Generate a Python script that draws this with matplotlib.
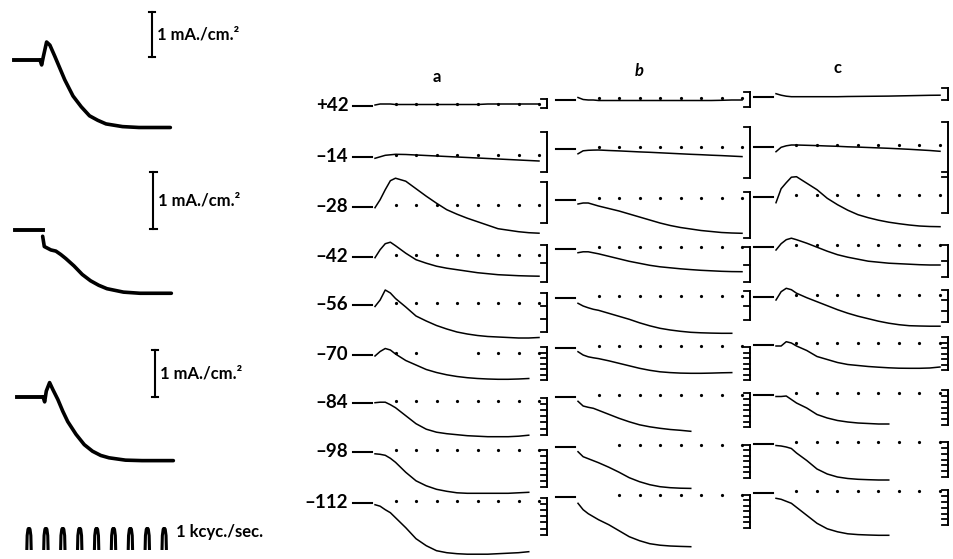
"""
Membrane current records under voltage clamp (three preparations a, b, c),
with three enlarged records on the left.
"""
import matplotlib.pyplot as plt
import numpy as np

nan = np.nan

# ---- data -----------------------------------------------------------------
# right-hand families: time (ms) after the step, current deflection
# (arbitrary units, inward = up) relative to the zero-current level
TIME_MS = [0, 0.25, 0.5, 0.75, 1, 1.5, 2, 2.5, 3, 3.5, 4, 4.5, 5, 5.5, 6, 6.5, 7, 7.5, 8]
VOLTAGE_LABELS = ["+42", "–14", "–28", "–42", "–56", "–70", "–84", "–98", "–112"]
COLUMN_LABELS = ["a", "b", "c"]

TRACES_A = [
    [1, 2, 2, 2, 1.5, 1.5, 1.5, 1.5, 1.5, 1.5, 1.5, 1.5, 1.5, 2, 2, 2, 2, 2, 2],
    [-1, 0.5, 2, 2.5, 3, 2.8, 2.3, 1.8, 1.3, 0.8, 0.3, -0.2, -0.7, -1.2, -1.7, -2.2, -2.7, -3.2, -3.7],
    [-1, 7, 17, 26, 28.5, 25.5, 18, 10.5, 3.5, -3, -7.5, -11.5, -15, -18.5, -22, -23.5, -25, -26, -26.5],
    [-1, 7, 13, 14.5, 11, 3.5, -3, -6.5, -9.5, -11.5, -13, -14.5, -16, -17, -18, -18.5, -19, -19.3, -19.5],
    [-1.5, 5, 15, 12, 6.5, -2, -11, -16, -20.5, -24, -27, -29, -30.5, -31.5, -32, -32.5, -33, -33, -32.5],
    [-1, 3.5, 6.5, 5, 1, -5.5, -10, -14.5, -17.5, -19.8, -21.5, -22.7, -23.5, -24, -24.3, -24.3, -24, -23.5, nan],
    [0, 0.5, 0.5, -2, -5, -13, -21, -26.5, -29.5, -31, -32, -33, -33.5, -34, -34, -34, -33.5, -32.5, nan],
    [-1.5, -2, -3, -6, -10, -20, -28.5, -33.5, -37, -39, -40.5, -41, -41, -41, -41, -41, -40.5, -40, nan],
    [-2, -3.5, -7, -10, -15, -25, -36, -43, -48, -50, -51, -51.5, -51.5, -51.5, -51, -50.5, -50, -49, nan],
]
TRACES_B = [
    [2.5, 0.5, 0, 0, -0.5, -0.5, -0.5, -0.5, -0.5, -0.5, -0.5, -0.5, -0.5, -0.5, -0.5, -0.5, -0.3, 0, 0],
    [-4.5, -1.5, -1, -0.8, -0.7, -1.2, -1.6, -2.1, -2.6, -3.0, -3.5, -4.0, -4.5, -5.0, -5.4, -5.9, -6.3, -6.8, -7.3],
    [-4, -3, -3, -4.5, -6, -8.5, -11, -14, -17, -20, -23, -25.5, -27.5, -29, -30.5, -31.5, -32.5, -33, -33.3],
    [-3.4, -2.5, -2.5, -3.5, -4.5, -7, -9.5, -12, -14, -16, -17.5, -18.5, -19.5, -20.3, -21, -21.5, -22, -22.3, -22.4],
    [-5, -7.7, -9.5, -11, -12, -15, -18, -21, -24.5, -27.5, -30, -31.7, -33, -34, -34.5, -34.8, -35, -35, nan],
    [-3.4, -6.7, -8.5, -9.5, -10.3, -12.5, -15, -17.5, -20, -22, -23.5, -24.3, -24.8, -25, -25, -24.8, -24.5, -24.3, nan],
    [-4, -8.7, -10, -11, -13, -17, -21, -24.5, -27.5, -29.5, -31, -32.2, -33, -34, nan, nan, nan, nan, nan],
    [-5, -10, -12, -14, -16, -20.5, -25.5, -31, -35, -38, -40, -41, -41.5, -41.7, nan, nan, nan, nan, nan],
    [-6.6, -13, -17, -20, -23, -28, -34, -40, -44, -47, -48.5, -49.3, -49.7, -50, nan, nan, nan, nan, nan],
]
TRACES_C = [
    [3, 1.5, 0.5, 0, 0, 0, 0, 0, 0, 0.2, 0.3, 0.4, 0.5, 0.6, 0.8, 1, 1.2, 1.4, 1.5],
    [-4.4, 0, 1.5, 2.3, 2.3, 2, 1.7, 1.3, 1, 0.5, 0.2, -0.2, -0.6, -1, -1.5, -2, -2.6, -3.2, -4],
    [-6, 8, 14, 19.5, 20, 13.5, 7, -1.6, -8, -13.5, -18, -21, -23.5, -25.5, -27, -28.3, -29.3, -29.8, -30],
    [-3.3, 3, 7, 8.5, 7, 3.5, -0.5, -4.5, -8, -10.5, -12.5, -14.5, -15.5, -16.5, -17, -17.5, -18, -18.3, -18.3],
    [-3.3, 5, 8.4, 7, 3.5, -1, -5, -9, -13, -16.5, -19.5, -22, -24.5, -26.5, -28, -29, -29.3, -29.5, -29.5],
    [-1, -1, 3.3, 2, -1, -5.5, -11.5, -14.5, -17.5, -19.5, -20.5, -21.5, -22.2, -22.8, -23.2, -23.3, -23.3, -23, -22],
    [-1.5, -1.5, -1, -4.5, -8, -13, -19.5, -23, -25.5, -27, -28, -28.5, -29, -29, nan, nan, nan, nan, nan],
    [-1.5, -2, -3, -4.5, -9, -16.5, -25, -30, -33, -34.5, -35.3, -35.7, -36, -36, nan, nan, nan, nan, nan],
    [-5, -6, -8, -10, -14, -22, -30, -35.5, -38.5, -40.5, -41.3, -41.7, -42, -42, nan, nan, nan, nan, nan],
]

# calibration brackets (same units as the traces): top, bottom, number of teeth
BRACKET_TOP = [
    [7, 25, 25, 12, 12, 8, 5, 2, 5],
    [8, 22, 8, 2, 7, 1, 4, 2, 2],
    [9, 25, 25, 2, 7, 8, 5, 2, 3],
]
BRACKET_BOTTOM = [
    [-2, -15, -16, -25, -27, -25, -32, -35, -32],
    [-7, -29, -38, -33, -22, -32, -30, -31, -31],
    [-3, -30, -16, -30, -25, -25, -30, -33, -32],
]
BRACKET_TEETH = [
    [2, 2, 2, 3, 4, 7, 7, 7, 7],
    [2, 2, 2, 3, 3, 7, 7, 7, 7],
    [2, 2, 2, 3, 4, 7, 7, 7, 7],
]
# 1 ms time markers on the zero line, and the ones not printed
MARKER_MS = [1, 2, 3, 4, 5, 6, 7, 8]
MARKERS_MISSING = {(0, 5): [3, 4], (1, 7): [1], (1, 8): [1], (2, 0): MARKER_MS}

# left-hand enlarged records, current in mA/cm2 (inward = up)
LEFT_TIME_MS = [0, 0.1, 0.2, 0.4, 0.6, 0.9, 1.2, 1.5, 2, 2.5, 3, 3.5, 4, 5, 6, 7, 7.9]
LEFT_TRACES = [
    [0, -0.11, 0.07, 0.40, 0.33, 0.08, -0.18, -0.44, -0.80, -1.04, -1.24, -1.34, -1.42, -1.48, -1.50, -1.50, -1.50],
    [nan, -0.11, -0.29, -0.32, -0.35, -0.37, -0.43, -0.50, -0.63, -0.78, -0.89, -0.97, -1.03, -1.09, -1.11, -1.11, -1.11],
    [0, -0.11, 0.12, 0.30, 0.15, -0.06, -0.31, -0.53, -0.80, -1.02, -1.16, -1.25, -1.30, -1.35, -1.36, -1.36, -1.36],
]
LEFT_HOLD_END_MS = [0, 0.1, 0]
SCALE_BAR_BOTTOM = [0.07, 0.02, 0.0]   # 1 mA/cm2 bars
TIMING_MS = [0, 1, 2, 3, 4, 5, 6, 7, 8]  # 1 kcyc/sec timing wave
WAVE_T = [-0.13, -0.11, -0.06, 0, 0.06, 0.11, 0.13]
WAVE_Y = [0, 0.65, 0.94, 1, 0.94, 0.65, 0]

# ---- layout (pixels) -------------------------------------------------------
W, H = 954, 559
COL_X0 = [375, 578, 776]
COL_BASE_Y = [
    [106, 157.3, 206.7, 256.7, 305, 355, 402.7, 452.3, 502.7],
    [100, 149.3, 200, 249.3, 298.3, 348.3, 397.3, 446.7, 496.7],
    [96.7, 147.3, 196.7, 246.7, 296.7, 345, 395, 444, 493.3],
]
PX_PER_MS = 20.5
LEFT_X0 = [40, 41, 43]
LEFT_BASE_Y = [60, 230, 396.7]
LEFT_PX_PER_UNIT = [45, 57, 47]
LEFT_PX_PER_MS = 16.5

plt.rcParams["font.family"] = ["Lato", "DejaVu Sans"]
fig = plt.figure(figsize=(W / 100, H / 100), dpi=100)
fig.patch.set_facecolor("white")


def px_axes(left, top, width, height):
    ax = fig.add_axes([left / W, 1 - (top + height) / H, width / W, height / H])
    ax.set_axis_off()
    ax.patch.set_alpha(0)
    return ax


# right-hand families
all_traces = [TRACES_A, TRACES_B, TRACES_C]
for c in range(3):
    for r in range(len(VOLTAGE_LABELS)):
        x_lo, x_hi, y_lo, y_hi = -1.6, 8.8, -60, 40
        ax = px_axes(COL_X0[c] + x_lo * PX_PER_MS, COL_BASE_Y[c][r] - y_hi,
                     (x_hi - x_lo) * PX_PER_MS, y_hi - y_lo)
        ax.set_xlim(x_lo, x_hi)
        ax.set_ylim(y_lo, y_hi)

        ax.plot([-1.05, -0.15], [0, 0], color="black", lw=1.5)
        ax.plot(TIME_MS, all_traces[c][r], color="black", lw=1.1)

        missing = MARKERS_MISSING.get((c, r), [])
        dots = [t for t in MARKER_MS if t not in missing]
        ax.plot(dots, [2] * len(dots), "o", color="black", ms=2.3, mew=0)

        top, bot = BRACKET_TOP[c][r], BRACKET_BOTTOM[c][r]
        ax.plot([8.4, 8.4], [bot, top], color="black", lw=1.4)
        for yt in np.linspace(bot, top, BRACKET_TEETH[c][r]):
            ax.plot([8.1, 8.4], [yt, yt], color="black", lw=1.3)

        if c == 0:
            ax.text(-1.3, 0.5, VOLTAGE_LABELS[r], ha="right", va="center",
                    fontsize=13.5, fontweight="bold")
        if r == 0:
            ax.text(3.0, 29, COLUMN_LABELS[c], ha="center", va="center",
                    fontsize=12, fontweight="bold", style="italic" if c == 1 else "normal")

# left-hand enlarged records
for i in range(3):
    s = LEFT_PX_PER_UNIT[i]
    x_lo, x_hi, y_lo, y_hi = -2, 9, -1.8, 1.3
    ax = px_axes(LEFT_X0[i] + x_lo * LEFT_PX_PER_MS, LEFT_BASE_Y[i] - y_hi * s,
                 (x_hi - x_lo) * LEFT_PX_PER_MS, (y_hi - y_lo) * s)
    ax.set_xlim(x_lo, x_hi)
    ax.set_ylim(y_lo, y_hi)
    ax.plot([-1.6, LEFT_HOLD_END_MS[i]], [0, 0], color="black", lw=2.8)
    ax.plot(LEFT_TIME_MS, LEFT_TRACES[i], color="black", lw=2.6,
            solid_capstyle="round", solid_joinstyle="round")
    b0 = SCALE_BAR_BOTTOM[i]
    ax.plot([6.8, 6.8], [b0, b0 + 1], color="black", lw=1.5)
    for yb in (b0, b0 + 1):
        ax.plot([6.6, 7.0], [yb, yb], color="black", lw=1.5)
    ax.text(7.1, b0 + 0.5, "1 mA./cm.²", ha="left", va="center",
            fontsize=12, fontweight="bold")

# timing wave
ax = px_axes(29 - 1 * 16.9, 527, 12 * 16.9, 23)
ax.set_xlim(-1, 11)
ax.set_ylim(0, 1.04)
for t0 in TIMING_MS:
    ax.plot([t0 + w for w in WAVE_T], WAVE_Y, color="black", lw=2.2,
            solid_joinstyle="round", solid_capstyle="butt")
ax.text(8.7, 0.8, "1 kcyc./sec.", ha="left", va="center", fontsize=12, fontweight="bold")

fig.savefig("out.png", dpi=100, facecolor="white")
